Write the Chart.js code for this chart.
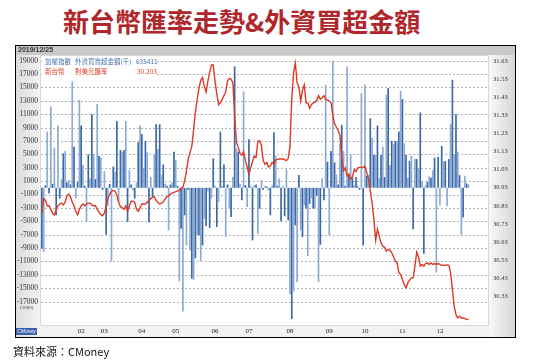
<!DOCTYPE html>
<html>
<head>
<meta charset="utf-8">
<script src="https://cdn.jsdelivr.net/npm/chart.js@4.4.1/dist/chart.umd.min.js"></script>
<style>
  body { margin:0; width:543px; height:364px; position:relative; overflow:hidden; background:#fff;
         font-family:"Noto Sans CJK TC","Noto Sans",sans-serif; }
  #title { position:absolute; left:63px; top:5px; font-size:26px; line-height:32px; font-weight:bold;
           color:#b0262a; white-space:nowrap; }
  #frame { position:absolute; left:15px; top:45px; width:501px; height:293px; }
  #date { position:absolute; left:18px; top:45px; font:bold 7px "Liberation Sans",sans-serif; color:#333; line-height:9px; }
  #legend { position:absolute; left:42px; top:56px; width:114px; height:21px; background:#fff;
            font-size:6.5px; line-height:10px; white-space:nowrap; }
  #legend div { position:relative; height:10px; }
  #legend span { position:absolute; top:0; }
  .blue { color:#4a72b0; }
  .red { color:#e0402a; }
  #unit { position:absolute; left:20px; top:305px; font:5px "Liberation Serif",serif; color:#444; }
  #logo { position:absolute; left:16px; top:328px; width:21px; height:7px; background:#3b5ea8; color:#fff;
          font:italic 5px "Liberation Sans",sans-serif; line-height:7px; text-align:center; }
  #source { position:absolute; left:13px; top:343px; font-size:11px; line-height:16px; color:#111; }
</style>
</head>
<body>
<div id="title">新台幣匯率走勢&amp;外資買超金額</div>
<div id="frame"><canvas id="chart"></canvas></div>
<div id="date">2019/12/25</div>
<div id="legend">
  <div class="blue"><span style="left:3px">加權指數</span><span style="left:33px">外資買賣超金額(千)</span><span style="left:94px">635411</span></div>
  <div class="red"><span style="left:3px">新台幣</span><span style="left:33px">對美元匯率</span><span style="left:95px">30.203</span></div>
</div>
<div id="unit">(1000)</div>
<div id="logo">CMoney</div>
<div id="source">資料來源：CMoney</div>

<script>
// 2019 trading days per month
var months = ['01','02','03','04','05','06','07','08','09','10','11','12'];
var tradingDays = [22,13,21,19,22,19,23,22,20,21,21,17];
var spareSlots = 11;

// foreign net buy (left axis)
var netBuy = [
  -9100,-9600,400,8400,-850,12150,600,6000,-4100,9300,
  -1600,1300,5150,5500,800,1150,500,15900,6150,-1600,
  900,13150,9300,3400,300,-5100,5000,1400,11000,4900,
  1300,12550,4750,4500,-300,2500,-7000,-2700,600,-11000,
  3150,2400,10000,-2100,5650,5400,5650,10000,-5100,2650,
  500,-400,-1600,800,6800,9300,8050,3000,7000,5300,
  -5200,1650,-1350,4900,9500,5800,9500,1900,3500,600,
  300,-6350,500,800,5400,4150,300,-13950,-6100,-18500,
  -4100,-8600,-300,-9350,-13600,-13750,-10500,-7000,-7100,-10950,
  -8600,-4600,-5700,-500,-6000,-1600,4400,300,-5850,-2100,
  8400,300,3500,-7350,500,-3100,-4350,1650,18150,5900,
  5400,600,-1850,14400,400,-2850,7250,300,-7850,400,
  500,-6850,-3100,1150,-300,300,200,-400,-4100,400,
  8300,4800,300,1400,-5000,300,-4250,2750,-4850,-15850,
  -19600,-15500,-5600,-14100,1900,-6350,-7350,-2600,-3100,-10200,
  -2400,-1600,-3100,-3100,-1200,-14100,-8500,1400,-1850,15400,
  3900,-7100,5500,19000,3800,2000,500,6650,9400,5500,
  300,18150,2000,5000,1500,400,1600,300,-300,14150,
  -8600,15400,1800,1900,10400,7500,4900,4900,9300,1500,
  4900,6150,1600,13900,14900,3400,7000,6500,7000,7000,
  8400,14500,13250,6650,4900,1500,4000,4800,-6200,4300,
  4300,2900,11250,900,-9850,400,900,1700,1500,2650,
  4500,-12650,4650,-2600,6250,3900,4000,-2700,4300,9500,
  16150,4900,11000,5400,1900,-7000,-4450,1800,650,500
];

// TWD per USD (right axis)
var twdRate = [
  30.79,30.87,30.86,30.83,30.83,30.81,30.79,30.78,30.81,30.83,
  30.84,30.845,30.835,30.85,30.885,30.895,30.88,30.85,30.83,30.80,
  30.78,30.81,30.83,30.84,30.83,30.84,30.845,30.845,30.835,30.83,
  30.83,30.81,30.795,30.78,30.775,30.79,30.83,30.87,30.895,30.91,
  30.915,30.91,30.89,30.85,30.825,30.82,30.81,30.83,30.80,30.83,
  30.855,30.855,30.85,30.81,30.80,30.82,30.84,30.84,30.84,30.85,
  30.86,30.87,30.877,30.88,30.86,30.848,30.84,30.845,30.852,30.867,
  30.88,30.885,30.895,30.90,30.904,30.908,30.913,30.916,30.925,30.932,
  30.969,31.024,31.09,31.126,31.16,31.25,31.35,31.42,31.48,31.525,
  31.54,31.49,31.46,31.52,31.57,31.61,31.61,31.52,31.45,31.39,
  31.40,31.42,31.44,31.46,31.52,31.535,31.53,31.51,31.33,31.18,
  31.155,31.12,31.11,31.13,31.08,31.045,31.006,31.04,31.075,31.105,
  31.10,31.186,31.19,31.163,31.08,31.06,31.07,31.045,31.05,31.07,
  31.06,31.083,31.087,31.089,31.09,31.089,31.085,31.08,31.093,31.16,
  31.42,31.57,31.62,31.51,31.49,31.41,31.47,31.50,31.40,31.40,
  31.37,31.39,31.40,31.404,31.414,31.44,31.42,31.43,31.44,31.42,
  31.415,31.41,31.40,31.33,31.284,31.265,31.247,31.22,31.10,31.024,
  31.04,30.997,31.006,30.978,30.99,31.03,31.02,31.04,31.043,31.043,
  31.043,31.05,31.015,30.978,30.913,30.848,30.755,30.64,30.70,30.662,
  30.625,30.606,30.60,30.579,30.588,30.585,30.57,30.548,30.524,30.514,
  30.459,30.45,30.422,30.394,30.376,30.403,30.418,30.431,30.431,30.496,
  30.574,30.548,30.496,30.505,30.496,30.51,30.514,30.505,30.514,30.505,
  30.51,30.505,30.51,30.505,30.50,30.501,30.50,30.503,30.50,30.459,
  30.366,30.273,30.227,30.209,30.218,30.207,30.209,30.205,30.20,30.203
];

var leftTicks = [19000,17000,15000,13000,11000,9000,7000,5000,3000,1000,
                 -1000,-3000,-5000,-7000,-9000,-11000,-13000,-15000,-17000];
var rightTicks = [31.63,31.53,31.43,31.33,31.23,31.13,31.03,30.93,30.83,30.73,30.63,30.53,30.43,30.33];

// one label per trading day, month name on the first day (Jan left blank)
var labels = [];
months.forEach(function(m, k) {
  for (var d = 0; d < tradingDays[k]; d++) {
    labels.push(d === 0 && k > 0 ? m : '');
  }
});
for (var s = 0; s < spareSlots; s++) labels.push('');

var frameBg = {
  id: 'frameBg',
  beforeDraw: function(chart) {
    var c = chart.ctx, a = chart.chartArea, w = chart.width, h = chart.height;
    c.save();
    c.fillStyle = '#ececec';
    c.fillRect(0, 0, w, h);
    var g = c.createLinearGradient(a.right, 0, w, 0);
    g.addColorStop(0, '#f8f8f8');
    g.addColorStop(1, '#d6d6d6');
    c.fillStyle = g;
    c.fillRect(a.right, 0, w - a.right, h);
    var g2 = c.createLinearGradient(0, 0, a.left, 0);
    g2.addColorStop(0, '#dcdcdc');
    g2.addColorStop(1, '#f4f4f4');
    c.fillStyle = g2;
    c.fillRect(0, 0, a.left, h);
    c.fillStyle = '#f2f2f2';
    c.fillRect(a.left, a.bottom, a.right - a.left, h - a.bottom);
    c.fillStyle = '#c9c9c9';
    c.fillRect(0, 0, w, a.top);
    c.fillStyle = '#ffffff';
    c.fillRect(a.left, a.top, a.right - a.left, a.bottom - a.top);
    c.restore();
  },
  // dashed grid at the left-axis ticks, under the bars
  beforeDatasetsDraw: function(chart) {
    var c = chart.ctx, a = chart.chartArea, ys = chart.scales.y;
    c.save();
    c.strokeStyle = '#b4b4b4';
    c.lineWidth = 1;
    c.setLineDash([2, 2]);
    leftTicks.forEach(function(v) {
      var py = Math.round(ys.getPixelForValue(v)) + 0.5;
      c.beginPath();
      c.moveTo(a.left, py);
      c.lineTo(a.right, py);
      c.stroke();
    });
    c.restore();
  },
  afterDraw: function(chart) {
    var c = chart.ctx, a = chart.chartArea;
    c.save();
    c.strokeStyle = '#d8d8d8';
    c.lineWidth = 1;
    c.strokeRect(a.left - 0.5, a.top + 0.5, a.right - a.left, a.bottom - a.top);
    c.strokeStyle = '#000';
    c.strokeRect(0.5, 0.5, chart.width - 1, chart.height - 1);
    c.restore();
  }
};

new Chart(document.getElementById('chart').getContext('2d'), {
  data: {
    labels: labels,
    datasets: [
      {
        type: 'line',
        data: twdRate,
        yAxisID: 'y1',
        borderColor: '#dc3a24',
        borderWidth: 1.4,
        pointRadius: 0,
        tension: 0,
        order: 0
      },
      {
        type: 'bar',
        data: netBuy,
        yAxisID: 'y',
        backgroundColor: function(ctx) { return ctx.dataIndex % 2 ? '#8eaad6' : '#3a6aa6'; },
        barPercentage: 0.95,
        categoryPercentage: 1,
        order: 1
      }
    ]
  },
  options: {
    responsive: true,
    maintainAspectRatio: false,
    animation: false,
    layout: { padding: { top: 10, left: 0, right: 0, bottom: 0 } },
    plugins: { legend: { display: false }, tooltip: { enabled: false } },
    scales: {
      x: {
        grid: { display: false, drawTicks: false },
        border: { display: false },
        ticks: {
          autoSkip: false, maxRotation: 0, padding: 2, color: '#222',
          font: { family: 'Liberation Serif', size: 7 }
        },
        afterFit: function(scale) { scale.height = 13; }
      },
      y: {
        position: 'left',
        min: -20500,
        max: 19850,
        afterBuildTicks: function(scale) {
          scale.ticks = leftTicks.map(function(v) { return { value: v }; });
        },
        afterFit: function(scale) { scale.width = 26; },
        grid: { display: false, drawTicks: false },
        border: { display: false },
        ticks: {
          autoSkip: false, padding: 3, color: '#333',
          font: { family: 'Liberation Serif', size: 7.5 },
          callback: function(v) { return String(v); }
        }
      },
      y1: {
        position: 'right',
        min: 30.17,
        max: 31.665,
        afterBuildTicks: function(scale) {
          scale.ticks = rightTicks.map(function(v) { return { value: v }; });
        },
        afterFit: function(scale) { scale.width = 27; },
        grid: { drawOnChartArea: false, drawTicks: false },
        border: { display: false },
        ticks: {
          autoSkip: false, padding: 4, color: '#333',
          font: { family: 'Liberation Serif', size: 6.5 },
          callback: function(v) { return v.toFixed(2); }
        }
      }
    }
  },
  plugins: [frameBg]
});
</script>
</body>
</html>
